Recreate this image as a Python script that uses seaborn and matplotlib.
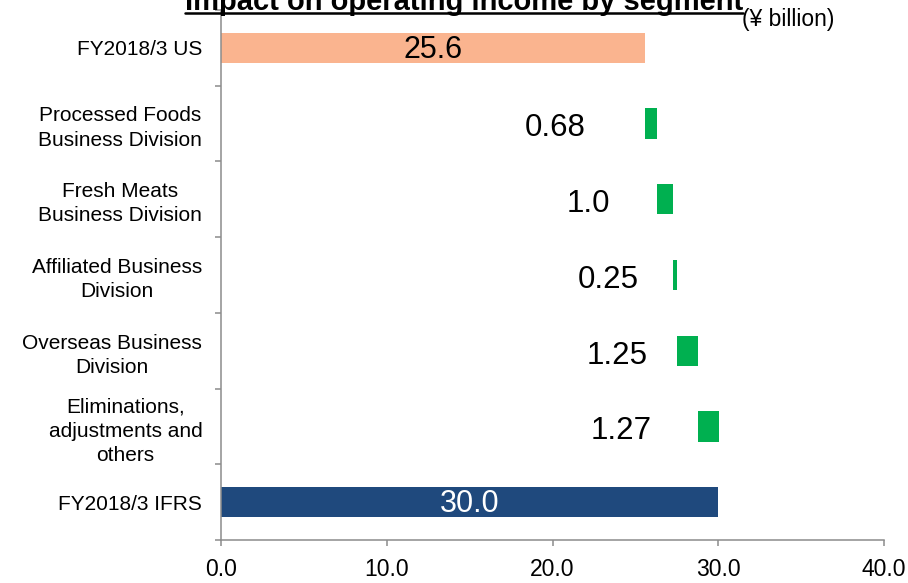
import matplotlib
matplotlib.use("Agg")
import matplotlib.pyplot as plt
from matplotlib.lines import Line2D
import numpy as np
import pandas as pd
import seaborn as sns

# Bridge from US GAAP to IFRS operating income (¥ billion)
categories = [
    "FY2018/3 US",
    "Processed Foods\nBusiness Division",
    "Fresh Meats\nBusiness Division",
    "Affiliated Business\nDivision",
    "Overseas Business\nDivision",
    "Eliminations,\nadjustments and\nothers",
    "FY2018/3 IFRS",
]
values = [25.6, 0.68, 1.0, 0.25, 1.25, 1.27, 30.0]
kinds = ["total", "delta", "delta", "delta", "delta", "delta", "total"]
value_labels = ["25.6", "0.68", "1.0", "0.25", "1.25", "1.27", "30.0"]
x_ticks = [0, 10, 20, 30, 40]
x_tick_labels = ["0.0", "10.0", "20.0", "30.0", "40.0"]

# floating segments start where the running total left off
starts, running = [], 0.0
for v, k in zip(values, kinds):
    if k == "total":
        starts.append(0.0)
        running = v
    else:
        starts.append(running)
        running += v
df = pd.DataFrame({"category": categories, "value": values, "start": starts})
df["end"] = df["start"] + df["value"]

colors = ["#FAB48F", "#00B050", "#00B050", "#00B050", "#00B050", "#00B050", "#1F497D"]
label_colors = ["black"] * 6 + ["white"]
# horizontal offset (points) of each delta label from its segment start
delta_label_offsets = [None, -65, -49, -47, -43, -55, None]

sns.set_theme(style="white")
plt.rcParams["font.family"] = ["Liberation Sans", "DejaVu Sans"]
plt.rcParams["text.color"] = "black"
plt.rcParams["xtick.labelcolor"] = "black"
plt.rcParams["ytick.labelcolor"] = "black"

fig = plt.figure(figsize=(9.08, 5.83), dpi=100)
ax = fig.add_axes([0.2434, 0.0738, 0.7302, 0.9092])

sns.barplot(data=df, y="category", x="end", hue="category", palette=colors,
            legend=False, orient="h", width=0.4, ax=ax, saturation=1,
            linewidth=0, order=categories, hue_order=categories)
# mask the part of each floating bar below its start
sns.barplot(data=df, y="category", x="start", color="white", orient="h",
            width=0.42, ax=ax, saturation=1, linewidth=0, order=categories)

ax.set_xlim(0, 40)
ax.set_ylim(6.5, -0.5)
ax.set_xlabel("")
ax.set_ylabel("")
ax.set_xticks(x_ticks)
ax.set_xticklabels(x_tick_labels)

# value labels
for i, (s, v, lab) in enumerate(zip(df["start"], df["value"], value_labels)):
    if kinds[i] == "total":
        ax.annotate(lab, xy=(s + v / 2, i), xytext=(0, -1.5),
                    textcoords="offset points", ha="center", va="center",
                    fontsize=22, color=label_colors[i])
    else:
        ax.annotate(lab, xy=(s, i), xytext=(delta_label_offsets[i], -3.5),
                    textcoords="offset points", ha="center", va="center",
                    fontsize=22.5, color=label_colors[i])

# axis styling
spine_col = "#8C8C8C"
for side in ["top", "right"]:
    ax.spines[side].set_visible(False)
for side in ["left", "bottom"]:
    ax.spines[side].set_color(spine_col)
    ax.spines[side].set_linewidth(1.1)

ax.set_yticks(np.arange(-0.5, 7.0, 1.0), minor=True)
ax.tick_params(axis="y", which="major", length=0, pad=13.5, labelsize=15)
ax.tick_params(axis="y", which="minor", length=4, width=1.1, color=spine_col,
               left=True)
ax.tick_params(axis="x", which="major", length=4, width=1.1, color=spine_col,
               bottom=True, pad=9, labelsize=16.5)
for t in ax.get_yticklabels():
    t.set_multialignment("center")
    t.set_linespacing(1.35)

# underlined title
title = fig.text(464 / 908, 1 - 10 / 583, "Impact on operating income by segment",
                 ha="center", va="baseline", fontsize=21, fontweight="bold")
fig.canvas.draw()
bb = title.get_window_extent(renderer=fig.canvas.get_renderer())
uy = 1 - 12.5 / 583
fig.add_artist(Line2D([bb.x0 / fig.bbox.width, bb.x1 / fig.bbox.width], [uy, uy],
                      transform=fig.transFigure, color="black", linewidth=1.8))

fig.text(742 / 908, 1 - 26 / 583, "(¥ billion)", ha="left", va="baseline",
         fontsize=16.5)

fig.savefig("out.png", dpi=100)
